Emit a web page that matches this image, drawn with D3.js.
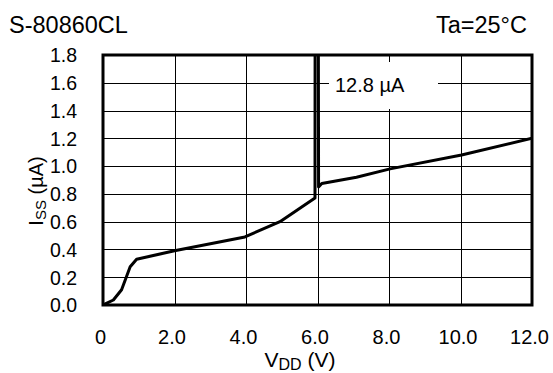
<!DOCTYPE html>
<html>
<head>
<meta charset="utf-8">
<script src="https://cdn.jsdelivr.net/npm/d3@7"></script>
<style>
  html, body { margin: 0; padding: 0; background: #fff; }
  svg { display: block; font-family: "Liberation Sans", Arial, sans-serif; }
</style>
</head>
<body>
<svg id="chart" width="553" height="373"></svg>
<script>
// ---- data ----
const title = "S-80860CL";
const condition = "Ta=25°C";
const vdd = [0, 0.29, 0.52, 0.76, 0.94, 2.0, 3.97, 4.95, 5.93, 5.96, 6.03, 6.12, 7.09, 8.03, 10.03, 12.0];
const iss = [0, 0.036, 0.11, 0.275, 0.33, 0.39, 0.49, 0.6, 0.77, 12.8, 0.85, 0.875, 0.92, 0.98, 1.08, 1.2];
const xTicks = [0, 2, 4, 6, 8, 10, 12];
const xTickLabels = ["0", "2.0", "4.0", "6.0", "8.0", "10.0", "12.0"];
const yTicks = [0, 0.2, 0.4, 0.6, 0.8, 1.0, 1.2, 1.4, 1.6, 1.8];
const yTickLabels = ["0.0", "0.2", "0.4", "0.6", "0.8", "1.0", "1.2", "1.4", "1.6", "1.8"];
const peakLabel = "12.8 µA";

// ---- layout ----
const svg = d3.select("#chart");
const L = 103, R = 532, T = 55, B = 305;
const x = d3.scaleLinear().domain([0, 12]).range([L, R]);
const y = d3.scaleLinear().domain([0, 1.8]).range([B, T]);

// clip
svg.append("defs").append("clipPath").attr("id", "clip")
  .append("rect").attr("x", L).attr("y", T).attr("width", R - L).attr("height", B - T);

// gridlines
const grid = svg.append("g").attr("stroke", "#000").attr("stroke-width", 1).attr("shape-rendering", "crispEdges");
grid.selectAll("line.v").data(xTicks.slice(1, -1)).join("line")
  .attr("x1", d => Math.round(x(d)) + 0.5).attr("x2", d => Math.round(x(d)) + 0.5)
  .attr("y1", T).attr("y2", B);
grid.selectAll("line.h").data(yTicks.slice(1, -1)).join("line")
  .attr("x1", L).attr("x2", R)
  .attr("y1", d => Math.round(y(d)) + 0.5).attr("y2", d => Math.round(y(d)) + 0.5);

// annotation background
const ann = svg.append("g");
ann.append("rect").attr("x", 329).attr("y", 62).attr("width", 109).attr("height", 47).attr("fill", "#fff");

// curve
const pts = vdd.map((v, i) => [v, iss[i]]);
svg.append("path")
  .attr("clip-path", "url(#clip)")
  .attr("d", d3.line().x(d => x(d[0])).y(d => y(d[1]))(pts))
  .attr("fill", "none").attr("stroke", "#000").attr("stroke-width", 3)
  .attr("stroke-linejoin", "round");

ann.append("text").attr("x", 335).attr("y", 92).attr("font-size", 20).attr("fill", "#000").text(peakLabel);

// border
svg.append("rect").attr("x", L).attr("y", T).attr("width", R - L).attr("height", B - T)
  .attr("fill", "none").attr("stroke", "#000").attr("stroke-width", 3);

// axes via d3 (ticks hidden, labels only)
const xAxis = d3.axisBottom(x).tickValues(xTicks).tickFormat((d, i) => xTickLabels[i]).tickSize(0).tickPadding(0);
const gx = svg.append("g").attr("transform", `translate(0,${B})`).call(xAxis);
gx.select(".domain").remove();
gx.selectAll("text").attr("font-size", 20).attr("font-family", "Liberation Sans, Arial, sans-serif")
  .attr("fill", "#000").attr("dy", null).attr("y", 39).attr("dx", -3);

const yAxis = d3.axisLeft(y).tickValues(yTicks).tickFormat((d, i) => yTickLabels[i]).tickSize(0).tickPadding(0);
const gy = svg.append("g").attr("transform", `translate(${L},0)`).call(yAxis);
gy.select(".domain").remove();
gy.selectAll("text").attr("font-size", 19.5).attr("font-family", "Liberation Sans, Arial, sans-serif")
  .attr("fill", "#000").attr("x", -26).attr("dy", "0.35em");

// titles
svg.append("text").attr("x", 9).attr("y", 33).attr("font-size", 23.5).text(title);
svg.append("text").attr("x", 527).attr("y", 33).attr("font-size", 23.5).attr("text-anchor", "end").text(condition);

// x label
const xl = svg.append("text").attr("x", 300).attr("y", 367).attr("font-size", 21).attr("text-anchor", "middle");
xl.append("tspan").text("V");
xl.append("tspan").attr("font-size", 16).attr("dy", 3).text("DD");
xl.append("tspan").attr("dy", -3).text(" (V)");

// y label
const yl = svg.append("text").attr("transform", "translate(43,191) rotate(-90)").attr("font-size", 20).attr("text-anchor", "middle");
yl.append("tspan").text("I");
yl.append("tspan").attr("font-size", 15).attr("dy", 3).text("SS");
yl.append("tspan").attr("dy", -3).text(" (µA)");
</script>
</body>
</html>
